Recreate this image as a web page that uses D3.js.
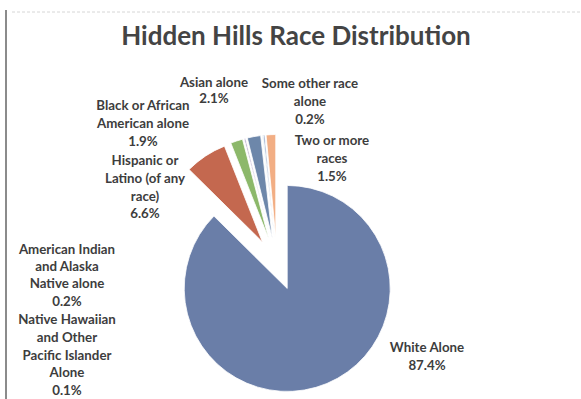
<!DOCTYPE html>
<html>
<head>
<meta charset="utf-8">
<script src="https://cdn.jsdelivr.net/npm/d3@7/dist/d3.min.js"></script>
<style>
  html, body { margin: 0; padding: 0; background: #ffffff; }
  svg { display: block; }
  .lbl { font-family: Lato, "Open Sans", sans-serif; font-weight: 700; fill: #3d3d3d; }
</style>
</head>
<body>
<svg id="chart" width="581" height="399"></svg>
<script>
// Race categories in drawing order (clockwise from 12 o'clock)
const categories = [
  "White Alone",
  "Hispanic or Latino (of any race)",
  "Black or African American alone",
  "American Indian and Alaska Native alone",
  "Asian alone",
  "Native Hawaiian and Other Pacific Islander Alone",
  "Some other race alone",
  "Two or more races"
];
// Share of population, percent
const shares = [87.4, 6.6, 1.9, 0.2, 2.1, 0.1, 0.2, 1.5];
// Wrapped category names used for the data labels
const labelLines = [
  ["White Alone"],
  ["Hispanic or", "Latino (of any", "race)"],
  ["Black or African", "American alone"],
  ["American Indian", "and Alaska", "Native alone"],
  ["Asian alone"],
  ["Native Hawaiian", "and Other", "Pacific Islander", "Alone"],
  ["Some other race", "alone"],
  ["Two or more", "races"]
];
const sliceColors = ["#6a7ea8", "#c4684f", "#8cb86a", "#9a86b8", "#6d87aa", "#7fb6c8", "#5f7db0", "#f2ae84"];

// Label placement: center x, first line y, line spacing
const labelLayout = [
  { x: 427, y: 352, dy: 18 },
  { x: 145, y: 165, dy: 17.8 },
  { x: 143, y: 110, dy: 17.8 },
  { x: 67,  y: 254, dy: 17.2 },
  { x: 214, y: 87,  dy: 16 },
  { x: 67,  y: 324, dy: 17.8 },
  { x: 310, y: 88,  dy: 17.8 },
  { x: 332, y: 145, dy: 17.8 }
];

const svg = d3.select("#chart");
const fmt = v => d3.format(".1f")(v) + "%";

// frame of the chart area
svg.append("line").attr("x1", 12).attr("x2", 581).attr("y1", 12).attr("y2", 12)
  .attr("stroke", "#d6d6d6").attr("stroke-width", 1).attr("stroke-dasharray", "3,2");
svg.append("line").attr("x1", 6).attr("x2", 6).attr("y1", 10).attr("y2", 399)
  .attr("stroke", "#5a5a5a").attr("stroke-width", 1.4);

// title
svg.append("text").attr("class", "lbl")
  .attr("x", 296).attr("y", 45)
  .attr("text-anchor", "middle")
  .style("font-size", "26px")
  .style("fill", "#444")
  .text("Hidden Hills Race Distribution");

// exploded pie: every slice is pushed out from the center along its mid-angle
const cx = 277, cy = 264, radius = 103, explode = 26.5;
const pie = d3.pie().sort(null).value(d => d.value).startAngle(0).endAngle(2 * Math.PI);
const arc = d3.arc().innerRadius(0).outerRadius(radius);
const data = categories.map((c, i) => ({ name: c, value: shares[i], i }));
const arcs = pie(data);

const g = svg.append("g").attr("transform", `translate(${cx},${cy})`);
g.selectAll("path").data(arcs).enter().append("path")
  .attr("d", arc)
  .attr("fill", d => sliceColors[d.data.i])
  .attr("stroke", "#ffffff")
  .attr("stroke-width", 0.8)
  .attr("transform", d => {
    const mid = (d.startAngle + d.endAngle) / 2;
    return `translate(${explode * Math.sin(mid)},${-explode * Math.cos(mid)})`;
  });

// data labels: category name lines followed by the percentage
labelLayout.forEach((p, i) => {
  const lines = labelLines[i].concat([fmt(shares[i])]);
  const t = svg.append("text").attr("class", "lbl")
    .attr("text-anchor", "middle")
    .style("font-size", "13.3px");
  lines.forEach((ln, k) => {
    t.append("tspan").attr("x", p.x).attr("y", p.y + k * p.dy).text(ln);
  });
});
</script>
</body>
</html>
